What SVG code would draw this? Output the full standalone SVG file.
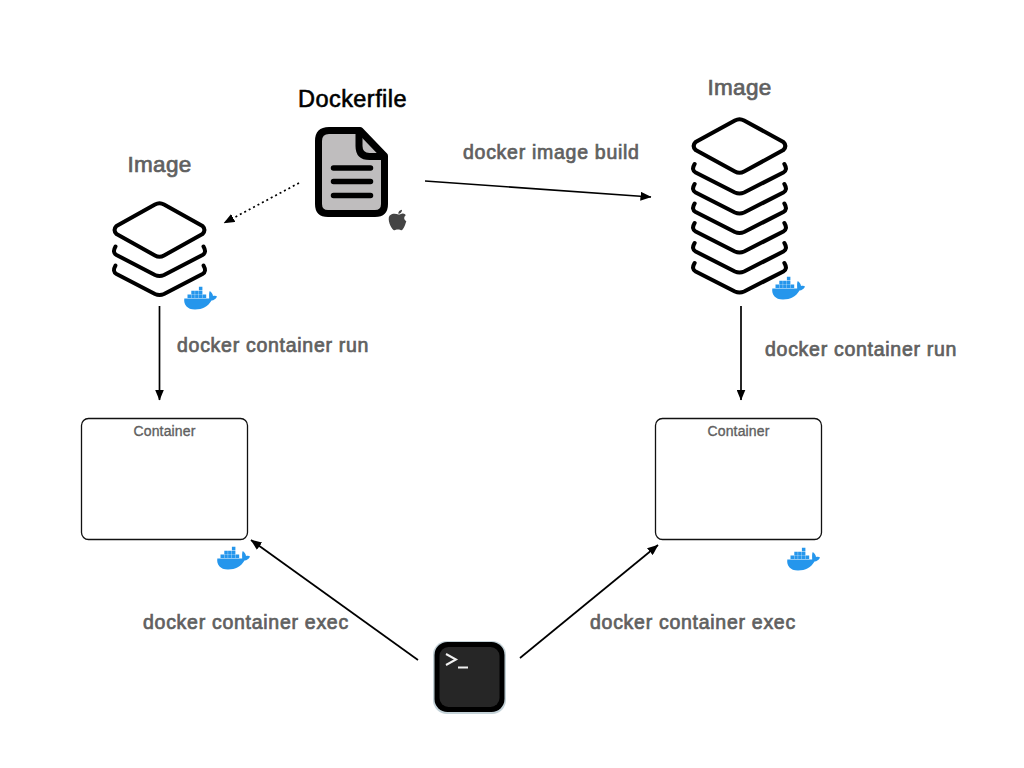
<svg xmlns="http://www.w3.org/2000/svg" width="1024" height="768" viewBox="0 0 1024 768">
<style>
text{font-family:"Liberation Sans",Arial,sans-serif}
.lbl{font-size:19.500px;fill:#606060;stroke:#606060;stroke-width:.7px;letter-spacing:.72px}
.ttl{font-size:22.500px;fill:#606060;stroke:#606060;stroke-width:.7px;letter-spacing:.3px}
.cap{font-size:14px;fill:#606060;text-anchor:middle;stroke:#606060;stroke-width:.35px;letter-spacing:.15px}
.box{fill:#fff;stroke:#111;stroke-width:1.300}
.layer{fill:none;stroke:#000;stroke-width:4;stroke-linejoin:round;stroke-linecap:round}
.conn{fill:none;stroke:#000;stroke-width:1.700}
.whale{fill:#2596ec}
</style>
<defs>
<marker id="arr" viewBox="0 0 11 9" refX="10.500" refY="4.500" markerWidth="11" markerHeight="9" markerUnits="userSpaceOnUse" orient="auto"><path d="M0,0L11,4.500L0,9z" fill="#000"/></marker>
<path id="dia" class="layer" d="M-4.500,-25.500Q0,-28 4.500,-25.500L43,-4Q47,0 43,4L4.500,25.500Q0,28 -4.500,25.500L-43,4Q-47,0 -43,-4Z"/>
<path id="chev" class="layer" d="M-44,-30Q-47.500,-24 -43,-21.500L-4.500,-1.500Q0,.5 4.500,-1.500L43,-21.500Q47.500,-24 44,-30"/>
<g id="whale" class="whale">
<path d="M.3,12.500H25.200C25,9 25,6.500 25.800,5C27.500,6 28.800,8 29,10C30.500,9.500 32.200,9.600 33,10.500C32,13 29.800,14.300 27.500,14.500C24,20.500 18.500,23.500 11,23.500C3,23.500 -.5,18.500 .3,12.500Z"/>
<path d="M3.500,8.500h3.500v3.500h-3.500zM7.300,8.500h3.500v3.500h-3.500zM11.100,8.500h3.500v3.500h-3.500zM14.900,8.500h3.500v3.500h-3.500zM18.700,8.500h3.500v3.500h-3.500zM7.300,4.700h3.500v3.500h-3.500zM11.100,4.700h3.500v3.500h-3.500zM14.900,4.700h3.500v3.500h-3.500zM14.900,.8h3.500v3.500h-3.500z"/>
</g>
</defs>

<g id="connectors">
<path class="conn" marker-end="url(#arr)" d="M425,181L651,197"/>
<path class="conn" marker-end="url(#arr)" stroke-dasharray="2 3" d="M299,183L224,223"/>
<path class="conn" marker-end="url(#arr)" d="M159.500,306V400"/>
<path class="conn" marker-end="url(#arr)" d="M741,306V400"/>
<path class="conn" marker-end="url(#arr)" d="M418,660L251,540"/>
<path class="conn" marker-end="url(#arr)" d="M520,658L658,545"/>
</g>

<g id="dockerfile">
<text x="352.500" y="106.500" text-anchor="middle" font-size="23.500" fill="#000" stroke="#000" stroke-width=".6" letter-spacing=".45">Dockerfile</text>
<path d="M329,130.500H360L384.500,156V204Q384.500,213.500 375,213.500H328Q318.500,213.500 318.500,204V141Q318.500,130.500 329,130.500Z" fill="#bfbdbe" stroke="#000" stroke-width="7" stroke-linejoin="round"/>
<path d="M359,132V146Q359,156.500 369.500,156.500H384" fill="none" stroke="#000" stroke-width="7"/>
<path d="M333.500,168H370.500M333.500,181.500H370.500M333.500,195.500H370.500" fill="none" stroke="#000" stroke-width="5.500" stroke-linecap="round"/>
<path d="M398.500,214.500C400.500,214.500 401.800,213.200 403,213.500C404.200,213.700 405.200,214.300 405.800,215.300C403.800,216.500 403.500,219.800 406.300,221.300C405.500,224 403.800,229 402,230C400.500,230.800 400.300,229.600 398,229.600C395.700,229.600 395,230.800 393.500,230C391,228.500 387,219.500 389.500,215.800C391.300,213.300 395.500,213.200 398.500,214.500Z M398.300,213.800C398.200,211.800 399.800,209.900 402,209.800C402.200,211.800 400.300,214 398.300,213.800Z" fill="#444"/>
</g>

<g id="image-left">
<text class="ttl" x="159.500" y="172" text-anchor="middle">Image</text>
<use href="#chev" x="159.500" y="295.500"/>
<use href="#chev" x="159.500" y="276.500"/>
<use href="#dia" x="159.500" y="230"/>
<use href="#whale" x="184" y="286"/>
</g>

<g id="image-right">
<text class="ttl" x="739.500" y="95" text-anchor="middle">Image</text>
<g transform="translate(739.500 0) scale(1.020 1)">
<use href="#chev" y="293"/>
<use href="#chev" y="273"/>
<use href="#chev" y="253"/>
<use href="#chev" y="233.500"/>
<use href="#chev" y="214"/>
<use href="#chev" y="194"/>
<use href="#dia" y="146"/>
</g>
<use href="#whale" x="772" y="276"/>
</g>

<g id="container-left">
<rect class="box" x="81.500" y="418.500" width="166" height="121" rx="7"/>
<text class="cap" x="164.500" y="435.500">Container</text>
<use href="#whale" x="217" y="546"/>
</g>

<g id="container-right">
<rect class="box" x="655.500" y="418.500" width="166" height="121" rx="7"/>
<text class="cap" x="738.500" y="435.500">Container</text>
<use href="#whale" x="787" y="547"/>
</g>

<g id="terminal">
<rect x="433" y="641" width="73" height="73" rx="14" fill="#c4d2d8"/>
<rect x="434.500" y="642" width="70" height="70" rx="13" fill="#000"/>
<rect x="439.500" y="647" width="60" height="60" rx="9" fill="#262626"/>
<path d="M446,654L456,659.500L446,665" fill="none" stroke="#f0f0f0" stroke-width="2"/>
<path d="M458,667.500H468" fill="none" stroke="#f0f0f0" stroke-width="2"/>
</g>

<g id="labels">
<text class="lbl" x="463" y="158.500">docker image build</text>
<text class="lbl" x="177" y="351.500">docker container run</text>
<text class="lbl" x="765" y="355.500">docker container run</text>
<text class="lbl" x="143" y="628.500">docker container exec</text>
<text class="lbl" x="590" y="628.500">docker container exec</text>
</g>
</svg>
